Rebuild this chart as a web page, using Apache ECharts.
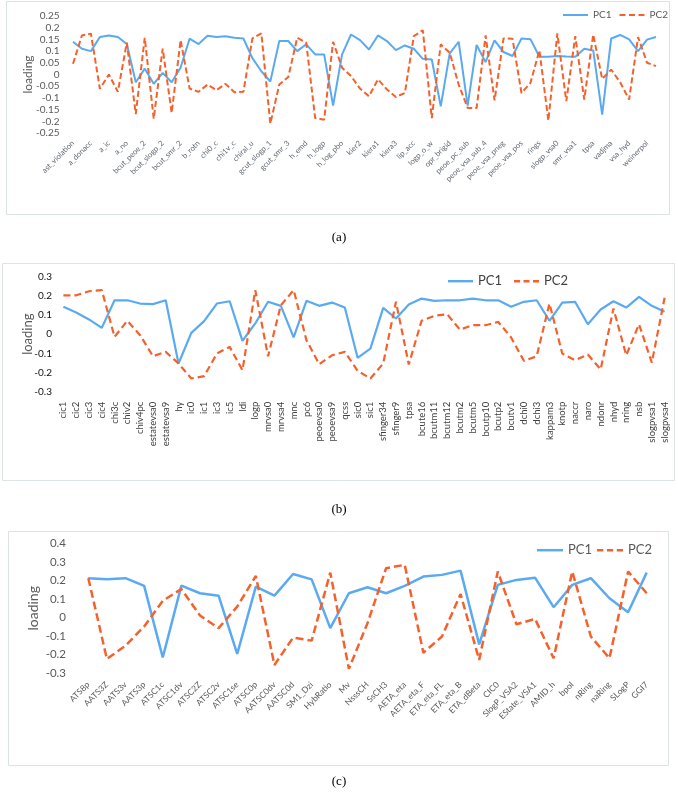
<!DOCTYPE html>
<html><head><meta charset="utf-8">
<script src="https://cdn.jsdelivr.net/npm/echarts@6/dist/echarts.min.js"></script>
<style>html,body{margin:0;padding:0;background:#fff}#c{width:678px;height:792px}</style>
</head><body><div id="c"></div>
<script>
// ---- Panel (a) ----
const labelsA = ['ast_violation','a_donacc','a_ic','a_no','bcut_peoe_2','bcut_slogp_2','bcut_smr_2','b_rotn','chi0_c','chi1v_c','chiral_u','gcut_slogp_1','gcut_smr_3','h_emd','h_logp','h_log_pbo','kier2','kiera1','kiera3','lip_acc','logp_o_w','opr_brigid','peoe_pc_sub','peoe_vsa_sub_4','peoe_vsa_pneg','peoe_vsa_pos','rings','slogp_vsa0','smr_vsa1','tpsa','vadjma','vsa_hyd','weinerpol'];
const pc1A = [0.14,0.11,0.1,0.16,0.167,0.16,0.13,-0.033,0.025,-0.04,0.007,-0.033,0.03,0.153,0.13,0.166,0.16,0.163,0.157,0.154,0.07,0.014,-0.03,0.143,0.143,0.1,0.129,0.086,0.086,-0.133,0.086,0.171,0.147,0.107,0.167,0.143,0.104,0.124,0.11,0.067,0.064,-0.136,0.09,0.14,-0.133,0.126,0.053,0.146,0.096,0.079,0.154,0.151,0.076,0.076,0.079,0.077,0.076,0.11,0.103,-0.171,0.154,0.169,0.15,0.1,0.149,0.16];
const pc2A = [0.046,0.167,0.174,-0.061,0,-0.074,0.136,-0.169,0.157,-0.189,0.111,-0.164,0.147,-0.06,-0.074,-0.043,-0.067,-0.04,-0.076,-0.074,0.154,0.176,-0.21,-0.043,-0.011,0.157,0.136,-0.186,-0.193,0.14,0.029,-0.007,-0.06,-0.093,-0.021,-0.064,-0.096,-0.079,0.164,0.189,-0.186,0.129,0.093,-0.043,-0.143,-0.143,0.167,-0.111,0.154,0.153,-0.079,-0.036,0.103,-0.197,0.176,-0.114,0.164,-0.107,0.171,-0.019,0.021,-0.033,-0.107,0.16,0.05,0.036];
// ---- Panel (b) ----
const catsB = ['cic1','cic2','cic3','cic4','chi3c','chiv2','chiv4pc','estatevsa0','estatevsa9','hy','ic0','ic1','ic3','ic5','ldi','logp','mrvsa0','mrvsa4','mnc','pc6','peoevsa0','peoevsa9','qcss','sic0','sic1','sfinger34','sfinger9','tpsa','bcute16','bcutm11','bcutm12','bcutm2','bcutm5','bcutp10','bcutp2','bcutv1','dchi0','dchi3','kappam3','knotp','naccr','naro','ndonr','nhyd','nring','nsb','slogpvsa1','slogpvsa4'];
const pc1B = [0.143,0.113,0.077,0.033,0.177,0.177,0.16,0.157,0.177,-0.153,0.007,0.068,0.16,0.172,-0.035,0.056,0.169,0.148,-0.017,0.174,0.148,0.165,0.139,-0.123,-0.075,0.137,0.082,0.155,0.186,0.174,0.177,0.177,0.186,0.177,0.177,0.143,0.169,0.177,0.07,0.165,0.169,0.052,0.129,0.172,0.139,0.195,0.148,0.117];
const pc2B = [0.203,0.203,0.224,0.23,-0.014,0.07,-0.005,-0.115,-0.092,-0.153,-0.231,-0.219,-0.101,-0.066,-0.188,0.23,-0.115,0.151,0.23,-0.031,-0.157,-0.11,-0.092,-0.191,-0.231,-0.153,0.169,-0.158,0.07,0.096,0.104,0.024,0.047,0.047,0.064,-0.017,-0.139,-0.115,0.16,-0.101,-0.136,-0.106,-0.184,0.134,-0.11,0.052,-0.148,0.19];
// ---- Panel (c) ----
const catsC = ['ATS8p','AATS3Z','AATS3v','AATS3p','ATSC1c','ATSC1dv','ATSC2Z','ATSC2v','ATSC1se','ATSC0p','AATSC0dv','AATSC0d','SM1_Dzi','HybRatio','Mv','NsssCH','SsCH3','AETA_eta','AETA_eta_F','ETA_eta_FL','ETA_eta_B','ETA_dBeta','CIC0','SlogP_VSA2','EState_VSA1','AMID_h','bpol','nRing','naRing','SLogP','GGI7'];
const pc1C = [0.212,0.206,0.212,0.171,-0.215,0.172,0.131,0.118,-0.196,0.167,0.118,0.235,0.206,-0.057,0.131,0.163,0.131,0.171,0.221,0.23,0.253,-0.144,0.176,0.203,0.215,0.056,0.176,0.212,0.104,0.029,0.242];
const pc2C = [0.212,-0.223,-0.151,-0.048,0.09,0.154,0.011,-0.057,0.059,0.224,-0.255,-0.108,-0.124,0.242,-0.276,-0.03,0.266,0.284,-0.189,-0.102,0.127,-0.228,0.248,-0.036,-0.007,-0.219,0.248,-0.102,-0.219,0.248,0.131];
const captions = ['(a)','(b)','(c)'];

const catsA = [];
labelsA.forEach((l,i)=>{ catsA.push(l); if (catsA.length < pc1A.length) catsA.push(''); });
while (catsA.length < pc1A.length) catsA.push('');

const FONT = 'Lato';
const BLUE = '#5aaaf2', ORANGE = '#f5612c';
// legend icons: solid and dashed line shapes
const ICON_SOLID_A = 'path://M0,0h25v2h-25z';
const ICON_DASH_A = 'path://M0,0h6v2h-6zM9.5,0h6v2h-6zM19,0h6v2h-6z';
const ICON_SOLID_B = 'path://M0,0h25v2.4h-25z';
const ICON_DASH_B = 'path://M0,0h6v2.4h-6zM9.5,0h6v2.4h-6zM19,0h6v2.4h-6z';

const chart = echarts.init(document.getElementById('c'), null, {renderer:'canvas'});

function yAx(gi, min, max, interval, lblSize, lblColor, lblMargin, nameSize, nameGap){
  return {type:'value', gridIndex:gi, min, max, interval,
    axisLine:{show:false}, axisTick:{show:false}, splitLine:{show:false},
    axisLabel:{fontFamily:FONT, fontSize:lblSize, color:lblColor, margin:lblMargin},
    name:'loading', nameLocation:'middle', nameRotate:90, nameGap, nameMoveOverlap:false,
    nameTextStyle:{fontFamily:FONT, fontSize:nameSize, color:'#595959'}};
}
function xAx(gi, data, rotate, size, color, margin, interval){
  return {type:'category', gridIndex:gi, data, boundaryGap:true,
    axisLine:{show:false}, axisTick:{show:false}, splitLine:{show:false},
    axisLabel:{rotate, fontFamily:FONT, fontSize:size, color, margin, interval}};
}
function ser(name, data, xi, yi, color, width, dashed){
  return {type:'line', name, data, xAxisIndex:xi, yAxisIndex:yi, symbol:'none',
    lineStyle:{color, width, type: dashed ? dashed : 'solid'}, itemStyle:{color},
    emphasis:{disabled:true}, silent:true};
}
function leg(left, top, w, h, gap, size, color, iconS, iconD){
  return {left, top, padding:0, itemWidth:w, itemHeight:h, itemGap:gap, selectedMode:false,
    textStyle:{fontFamily:FONT, fontSize:size, color},
    data:[{name:'PC1', icon:iconS}, {name:'PC2', icon:iconD}]};
}

const option = {
  animation:false,
  grid:[
    {left:68.5, top:16, width:592, height:117},
    {left:57, top:276.7, width:614, height:115},
    {left:79, top:543.3, width:577, height:130}
  ],
  xAxis:[
    xAx(0, catsA, 45, 7.6, '#5f6670', 9, 1),
    xAx(1, catsB, 90, 9.5, '#404040', 10, 0),
    xAx(2, catsC, 45, 8.5, '#595959', 10, 0)
  ],
  yAxis:[
    yAx(0, -0.25, 0.25, 0.05, 10, '#595959', 9, 12, 34),
    yAx(1, -0.3, 0.3, 0.1, 10, '#111', 5, 13, 23),
    yAx(2, -0.3, 0.4, 0.1, 11.5, '#595959', 13, 14, 39)
  ],
  legend:[
    leg(563, 10, 25, 12, 8, 10, '#595959', ICON_SOLID_A, ICON_DASH_A),
    leg(448, 274.7, 25, 14, 12, 13, '#404040', ICON_SOLID_B, ICON_DASH_B),
    leg(537, 543.7, 26, 14, 5, 13, '#595959', ICON_SOLID_B, ICON_DASH_B)
  ],
  series:[
    ser('PC1', pc1A, 0, 0, BLUE, 2, null),
    ser('PC2', pc2A, 0, 0, ORANGE, 2, [6,3]),
    ser('PC1', pc1B, 1, 1, BLUE, 2.2, null),
    ser('PC2', pc2B, 1, 1, ORANGE, 2.2, [7,4]),
    ser('PC1', pc1C, 2, 2, BLUE, 2.5, null),
    ser('PC2', pc2C, 2, 2, ORANGE, 2.5, [8,4])
  ],
  graphic:[
    {type:'rect', shape:{x:6.5, y:1.5, width:663, height:213}, style:{fill:'none', stroke:'#dde3e4', lineWidth:1}, silent:true},
    {type:'rect', shape:{x:2.5, y:263.5, width:672, height:217}, style:{fill:'none', stroke:'#dde3e4', lineWidth:1}, silent:true},
    {type:'rect', shape:{x:8.5, y:531.5, width:660, height:234}, style:{fill:'none', stroke:'#dde3e4', lineWidth:1}, silent:true},
    {type:'text', x:339, y:238, style:{text:captions[0], font:'13px "Liberation Serif"', fill:'#000', textAlign:'center', textVerticalAlign:'middle'}},
    {type:'text', x:339, y:510, style:{text:captions[1], font:'13px "Liberation Serif"', fill:'#000', textAlign:'center', textVerticalAlign:'middle'}},
    {type:'text', x:339, y:782, style:{text:captions[2], font:'13px "Liberation Serif"', fill:'#000', textAlign:'center', textVerticalAlign:'middle'}}
  ]
};
chart.setOption(option);
</script></body></html>
